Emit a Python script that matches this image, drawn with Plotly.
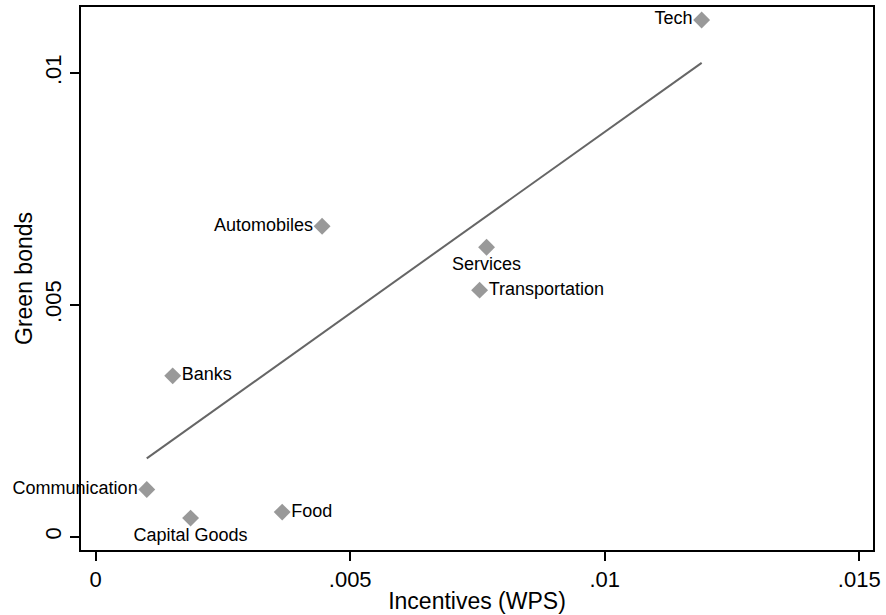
import plotly.graph_objects as go
import numpy as np

sectors = ["Tech", "Automobiles", "Services", "Transportation", "Banks",
           "Communication", "Capital Goods", "Food"]
incentives_wps = [0.011904, 0.004448, 0.007679, 0.007542, 0.001513,
                  0.001004, 0.001865, 0.003664]
green_bonds = [0.011146, 0.006698, 0.006242, 0.005318, 0.003470,
               0.001020, 0.000402, 0.000531]
label_pos = ["middle left", "middle left", "bottom center", "middle right",
             "middle right", "middle left", "bottom center", "middle right"]

# fitted line (as drawn in the reference)
fit_intercept = 0.000905
fit_slope = 0.7826

x_ticks = [0, 0.005, 0.01, 0.015]
x_tick_labels = ["0", ".005", ".01", ".015"]
y_ticks = [0, 0.005, 0.01]
y_tick_labels = ["0", ".005", ".01"]

font = "Liberation Sans, Arial, Helvetica, sans-serif"

xs = np.array([min(incentives_wps), max(incentives_wps)])
ys = fit_intercept + fit_slope * xs

fig = go.Figure()
fig.add_trace(go.Scatter(
    x=incentives_wps, y=green_bonds, mode="markers+text",
    text=sectors, textposition=label_pos,
    textfont=dict(family=font, size=18, color="black"),
    marker=dict(symbol="diamond", size=13, color="#999999"),
    showlegend=False, cliponaxis=False,
))
fig.add_trace(go.Scatter(
    x=xs, y=ys, mode="lines",
    line=dict(color="#666666", width=2),
    showlegend=False,
))

fig.update_layout(
    width=886, height=615,
    margin=dict(l=81, r=10, t=5, b=65),
    paper_bgcolor="white", plot_bgcolor="white",
    font=dict(family=font, size=22, color="black"),
)
fig.update_xaxes(
    range=[-0.000288, 0.01527],
    tickvals=x_ticks, ticktext=x_tick_labels,
    ticks="outside", ticklen=9, tickwidth=1.5, tickcolor="black",
    showline=True, linecolor="black", linewidth=2, mirror=True,
    showgrid=False, zeroline=False,
    tickfont=dict(size=22),
    title=dict(text="Incentives (WPS)", font=dict(size=23), standoff=1),
)
fig.update_yaxes(
    range=[-0.000286, 0.011425],
    tickvals=y_ticks, ticktext=y_tick_labels, tickangle=-90,
    ticks="outside", ticklen=9, tickwidth=1.5, tickcolor="black",
    showline=True, linecolor="black", linewidth=2, mirror=True,
    showgrid=False, zeroline=False,
    tickfont=dict(size=22),
    title=dict(text="Green bonds", font=dict(size=23), standoff=2),
)

fig.write_html(
    "out.html",
    config={"displayModeBar": False},
    post_script="document.body.style.margin='0';document.body.style.padding='0';",
)
